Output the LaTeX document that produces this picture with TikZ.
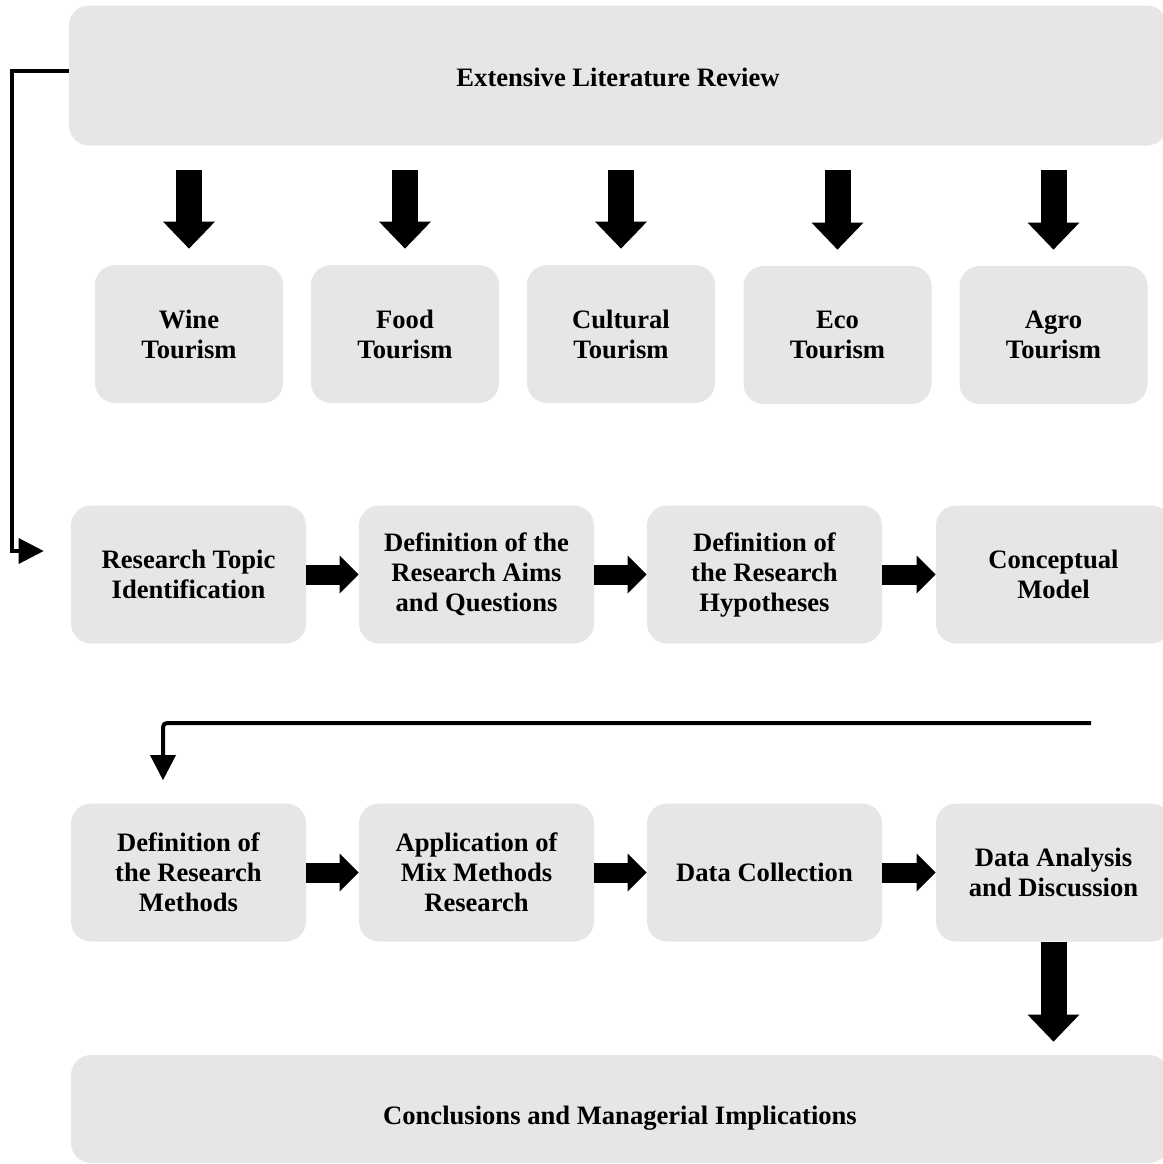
\documentclass[tikz,border=0pt]{standalone}
\usepackage{fontspec}
\setmainfont{Liberation Serif}
\usetikzlibrary{arrows.meta,positioning,calc}
\definecolor{boxgray}{RGB}{230,230,230}
\tikzset{
  flow/.style={x=0.5pt,y=-0.5pt,
    every node/.style={font=\bfseries\fontsize{13.3}{15}\selectfont,align=center}},
  wide/.style={fill=boxgray,rounded corners=10pt,inner sep=0pt,
               minimum width=549pt,minimum height=#1},
  tour/.style={fill=boxgray,rounded corners=10pt,inner sep=0pt,
               minimum width=94pt,minimum height=69pt},
  proc/.style={fill=boxgray,rounded corners=10pt,inner sep=0pt,
               minimum width=117.5pt,minimum height=69pt},
  fatdown/.style={line width=13pt,-{Triangle[width=26pt,length=13.5pt,line width=0pt]}},
  fatright/.style={line width=10pt,-{Triangle[width=19pt,length=9.5pt,line width=0pt]}},
  conn/.style={line width=2pt,-{Triangle[width=13pt,length=12.5pt,line width=0pt]}},
}
\begin{document}
\begin{tikzpicture}[flow]
    \useasboundingbox (0,0) rectangle (1163,1164);
    \node[wide=70pt,text height=11pt] (lit) at (618,75.5) {Extensive Literature Review};
    % tourism types
    \node[tour] (wine) at (189,334) {Wine\\Tourism};
    \node[tour] (food) at (405,334) {Food\\Tourism};
    \node[tour] (cult) at (621,334) {Cultural\\Tourism};
    \node[tour] (eco) at (837.5,335) {Eco\\Tourism};
    \node[tour] (agro) at (1053.5,335) {Agro\\Tourism};
    \foreach \t in {wine,food,cult,eco,agro}
      \draw[fatdown,shorten <=12pt,shorten >=8pt] (\t |- lit.south) -- (\t.north);
    % research design
    \node[proc] (r1) at (188.5,574.5) {Research Topic\\Identification};
    \node[proc] (r2) at (476.5,574.5) {Definition of the\\Research Aims\\and Questions};
    \node[proc] (r3) at (764.5,574.5) {Definition of\\the Research\\Hypotheses};
    \node[proc] (r4) at (1053.5,574.5) {Conceptual\\Model};
    % methods and analysis
    \node[proc] (s1) at (188.5,872.5) {Definition of\\the Research\\Methods};
    \node[proc] (s2) at (476.5,872.5) {Application of\\Mix Methods\\Research};
    \node[proc] (s3) at (764.5,872.5) {Data Collection};
    \node[proc] (s4) at (1053.5,872.5) {Data Analysis\\and Discussion};
    \foreach \a/\b in {r1/r2,r2/r3,r3/r4,s1/s2,s2/s3,s3/s4}
      \draw[fatright] (\a) -- (\b);
    \node[wide=54pt,text height=18pt] (concl) at (620,1109) {Conclusions and Managerial Implications};
    \draw[fatdown,shorten >=6.5pt] (s4.south) -- (s4.south |- concl.north);
    % return lines
    \coordinate (intip) at ($(r1.west)+(-27,-23.5)$);
    \draw[conn] ($(lit.west)+(0,-4.5)$) -- ++(-57,0) |- (intip);
    \coordinate (midstart) at (1091,723);
    \coordinate (midtip) at ($(s1.north)+(-25.5,-23)$);
    \draw[conn,rounded corners=2pt] (midstart) -| (midtip);
\end{tikzpicture}
\end{document}
